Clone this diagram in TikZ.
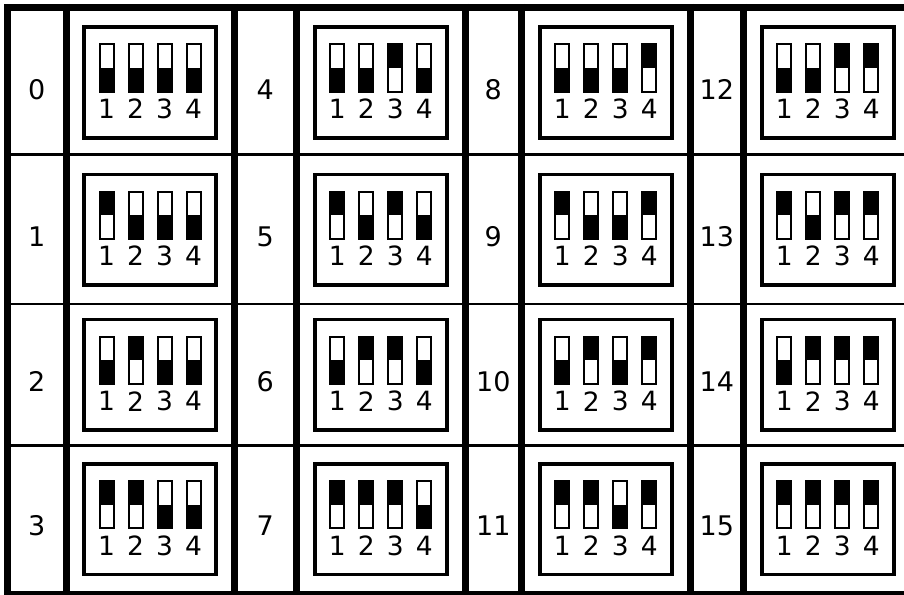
\documentclass[tikz,border=0pt]{standalone}
\usepackage{fontspec}
\setmainfont{DejaVu Sans}

\tikzset{
  frame/.style={line width=7pt},
  rowline/.style={line width=2.5pt},
  numlabel/.style={inner sep=0pt, font=\fontsize{27}{32}\selectfont},
  dipbox/.style={draw, line width=3.5pt, minimum width=132pt,
    minimum height=110.5pt, inner sep=0pt},
  lever/.style={draw, line width=2pt, minimum width=14pt,
    minimum height=47pt, inner sep=0pt},
  swlabel/.style={inner sep=0pt, font=\fontsize{26.5}{32}\selectfont}
}

\begin{document}
\begin{tikzpicture}[x=1pt, y=-1pt]
  \useasboundingbox (0,0) rectangle (904,594);

  % frame and grid
  \draw[frame] (7.5,7.5) rectangle (912,594.5);
  \foreach \xv in {66,234,296.5,465,521.5,690,743.5}
    \draw[frame] (\xv,4) -- (\xv,598);
  \foreach \yv in {154.5,304,445.5}
    \draw[rowline] (4,\yv) -- (912,\yv);

  % one dip switch block per value
  \foreach \g/\xl/\xd/\xr in {0/7.5/66/234, 1/234/296.5/465,
                              2/465/521.5/690, 3/690/743.5/912} {
    \foreach \r/\yc in {0/82.5, 1/229.5, 2/374.75, 3/519} {
      \pgfmathtruncatemacro\n{4*\g+\r}
      \node[numlabel] (num\n) at ({(\xl+\xd)/2}, {\yc+7}) {\n};
      \node[dipbox] (box\n) at ({(\xd+\xr)/2}, \yc) {};
      \foreach \i in {1,...,4} {
        \pgfmathtruncatemacro\bit{mod(floor(\n/2^(\i-1)),2)}
        \node[lever] (sw\n-\i) at ({(\xd+\xr)/2+(\i-2.5)*29}, {\yc-14.5}) {};
        \ifnum\bit=1
          \fill (sw\n-\i.north west) rectangle (sw\n-\i.east);
        \else
          \fill (sw\n-\i.west) rectangle (sw\n-\i.south east);
        \fi
        \node[swlabel] (lab\n-\i) at ({(\xd+\xr)/2+(\i-2.5)*29}, {\yc+26.5}) {\i};
      }
    }
  }
\end{tikzpicture}
\end{document}
